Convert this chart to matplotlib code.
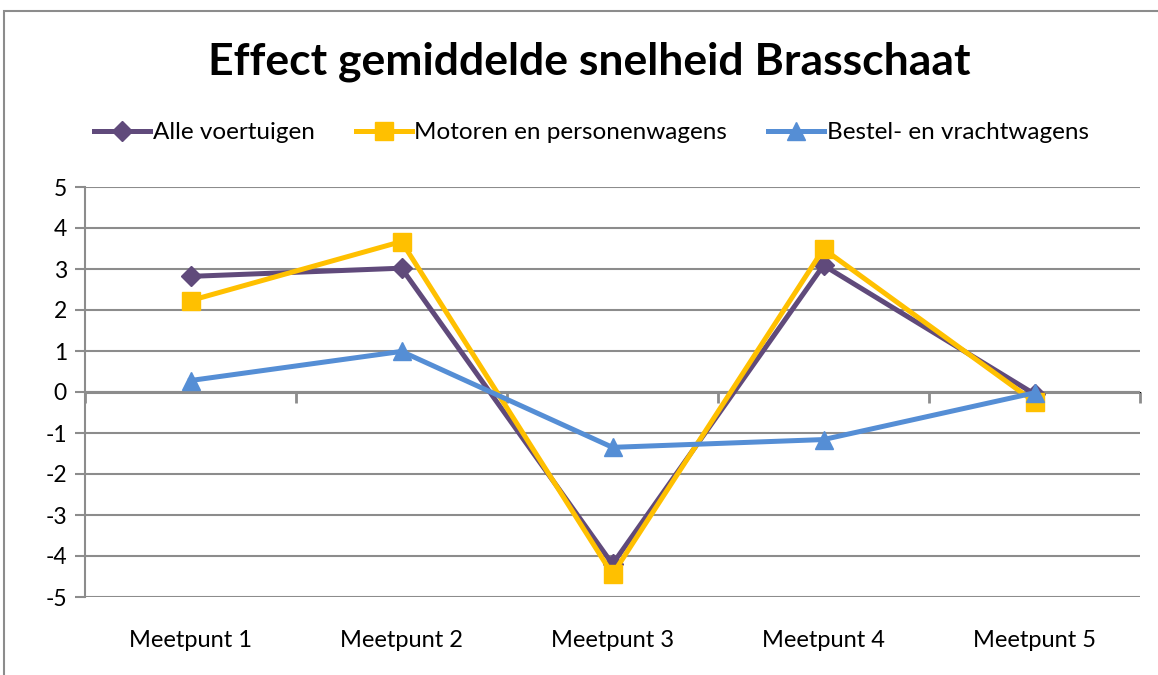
import matplotlib.pyplot as plt
from matplotlib.patches import Rectangle

plt.rcParams['font.family'] = ['Lato', 'DejaVu Sans']

categories = ['Meetpunt 1', 'Meetpunt 2', 'Meetpunt 3', 'Meetpunt 4', 'Meetpunt 5']
alle = [2.82, 3.02, -4.2, 3.09, -0.05]
motoren = [2.23, 3.67, -4.45, 3.49, -0.24]
bestel = [0.28, 0.99, -1.35, -1.16, -0.02]

fig = plt.figure(figsize=(11.58, 6.75), dpi=100)
ax = fig.add_axes([85 / 1158, 78 / 675, 1055 / 1158, 410 / 675])

x = list(range(len(categories)))
ax.plot(x, alle, color='#604A7B', lw=3.6, marker='D', ms=10, label='Alle voertuigen', zorder=3)
ax.plot(x, motoren, color='#FFC000', lw=3.6, marker='s', ms=13, label='Motoren en personenwagens', zorder=4)
ax.plot(x, bestel, color='#558ED5', lw=3.6, marker='^', ms=13, label='Bestel- en vrachtwagens', zorder=5)

ax.set_xlim(-0.5, 4.5)
ax.set_ylim(-5, 5)
ax.set_yticks(range(-5, 6))
ax.set_yticklabels([str(v) for v in range(-5, 6)], fontsize=16.5)
ax.yaxis.grid(True, color='#8C8C8C', lw=1.5)
ax.set_axisbelow(True)
for s in ['top', 'right', 'bottom']:
    ax.spines[s].set_visible(False)
ax.spines['left'].set_color('#8C8C8C')
ax.spines['left'].set_linewidth(1.5)
ax.tick_params(axis='y', length=7, width=1.5, color='#8C8C8C', pad=6)

# category labels at the bottom
ax.set_xticks(x)
ax.set_xticklabels(categories, fontsize=17)
ax.tick_params(axis='x', length=0, pad=24)

# zero axis with tick marks between categories
ax.axhline(0, color='#8C8C8C', lw=2.2, zorder=1)
sec = ax.secondary_xaxis(0.5)
sec.set_xticks([i - 0.5 for i in range(len(categories) + 1)])
sec.set_xticklabels([])
sec.spines['bottom'].set_visible(False)
sec.tick_params(length=8, width=2, color='#8C8C8C', direction='in')

ax.legend(loc='center', bbox_to_anchor=(0.48, 1.132), ncol=3, frameon=False,
          fontsize=17.5, handlelength=2.3, handletextpad=0.1, columnspacing=1.7)

fig.text(0.509, 0.908, 'Effect gemiddelde snelheid Brasschaat', ha='center', va='center',
         fontsize=32, fontweight='bold')

fig.patches.append(Rectangle((4 / 1158, -0.1), 1.2, (664 + 67.5) / 675, transform=fig.transFigure,
                             fill=False, edgecolor='#8C8C8C', lw=1.5))

fig.savefig('out.png', dpi=100)
